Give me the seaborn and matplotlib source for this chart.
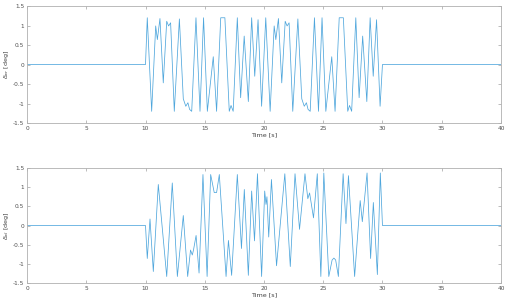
import matplotlib
matplotlib.use("Agg")
import matplotlib.pyplot as plt
import seaborn as sns
import pandas as pd

# ---- data ----
t_top = [0, 10, 10.15, 10.52, 10.86, 11.0, 11.22, 11.5, 11.79, 11.95, 12.12, 12.43, 12.86,
         13.19, 13.4, 13.58, 13.72, 13.9, 14.26, 14.6, 14.9, 15.22, 15.72, 16.0, 16.35, 16.7,
         17.07, 17.22, 17.4, 17.75, 18.03, 18.33, 18.68, 18.96, 19.22, 19.5, 19.8,
         20.15, 20.52, 20.86, 21.0, 21.22, 21.5, 21.79, 21.95, 22.12, 22.43, 22.86,
         23.19, 23.4, 23.58, 23.72, 23.9, 24.26, 24.6, 24.9, 25.22, 25.72, 26.0, 26.35, 26.7,
         27.07, 27.22, 27.4, 27.75, 28.03, 28.33, 28.68, 28.96, 29.22, 29.5, 29.8, 30, 40]
v_top = [0, 0, 1.2, -1.2, 0.99, 0.64, 1.18, -0.47, 1.11, 0.99, 1.07, -1.2, 1.17,
         -0.88, -1.07, -0.98, -1.15, -1.2, 1.2, -1.2, 1.2, -1.2, 0.2, -1.2, 1.2, 1.2,
         -1.2, -1.05, -1.2, 1.2, -0.85, 0.73, -0.95, 1.2, -0.3, 1.15, -1.07,
         1.2, -1.2, 0.99, 0.64, 1.18, -0.47, 1.11, 0.99, 1.07, -1.2, 1.17,
         -0.88, -1.07, -0.98, -1.15, -1.2, 1.2, -1.2, 1.2, -1.2, 0.2, -1.2, 1.2, 1.2,
         -1.2, -1.05, -1.2, 1.2, -0.85, 0.73, -0.95, 1.2, -0.3, 1.15, -1.07, 0, 0]

t_bot = [0, 10, 10.15, 10.38, 10.66, 11.08, 11.79, 12.26, 12.69, 13.19, 13.56, 13.8, 13.95,
         14.05, 14.27, 14.52, 14.85, 15.2, 15.5, 15.8, 16.0, 16.23, 16.8, 17.0, 17.27, 17.75,
         18.1, 18.34, 18.68, 18.96, 19.2, 19.45, 19.8, 20.06, 20.17, 20.25, 20.4, 20.63,
         21.06, 21.76, 22.22, 22.62, 23.0, 23.46, 23.7, 23.85, 24.18, 24.5, 24.8, 25.05,
         25.47, 25.75, 25.9, 26.05, 26.28, 26.68, 26.92, 27.13, 27.65, 28.12, 28.3, 28.7,
         29.0, 29.23, 29.57, 29.82, 30, 40]
v_bot = [0, 0, -0.86, 0.17, -1.2, 1.07, -1.33, 1.11, -1.33, 0.26, -1.33, -0.64, -0.77,
         -0.64, -0.26, -1.24, 1.33, -1.33, 1.33, 0.86, 0.86, 1.33, -1.33, -0.39, -1.3, 1.33,
         -0.6, 0.94, -1.3, 0.9, -0.4, 1.35, -1.33, 0.9, 0.55, 0.75, -0.3, 1.2,
         -1.05, 1.35, -1.07, 1.35, -0.1, 1.35, 0.7, 0.85, 0.2, 1.35, -1.33, 1.37,
         -1.33, -0.9, -0.85, -0.9, -1.33, 1.35, 0.05, 1.3, -1.33, 0.65, 0.1, 1.37,
         -0.86, 0.6, -1.28, 1.37, 0, 0]

x_ticks = [0, 5, 10, 15, 20, 25, 30, 35, 40]
y_ticks = [-1.5, -1, -0.5, 0, 0.5, 1, 1.5]
y_ticklabels = ["-1.5", "-1", "-0.5", "0", "0.5", "1", "1.5"]
ylabels = [r"$\delta_{ar}$ [deg]", r"$\delta_{al}$ [deg]"]
xlabel = "Time [s]"

# ---- plotting ----
sns.set_theme(style="white")
plt.rcParams['font.family'] = ['DejaVu Sans']

fig = plt.figure(figsize=(5.06, 3.03), dpi=100)
ax1 = fig.add_axes([0.0534, 0.594, 0.9366, 0.386])
ax2 = fig.add_axes([0.0534, 0.066, 0.9366, 0.3795])

line_color = "#4ea6dc"
for ax, (t, v), yl in zip([ax1, ax2], [(t_top, v_top), (t_bot, v_bot)], ylabels):
    df = pd.DataFrame({"t": t, "v": v})
    sns.lineplot(data=df, x="t", y="v", ax=ax, color=line_color, linewidth=0.55,
                 estimator=None, sort=False, solid_joinstyle="round")
    ax.set_xlim(0, 40)
    ax.set_ylim(-1.5, 1.5)
    ax.set_xticks(x_ticks)
    ax.set_xticklabels([str(x) for x in x_ticks])
    ax.set_yticks(y_ticks)
    ax.set_yticklabels(y_ticklabels)
    ax.tick_params(direction="in", length=2, width=0.4, labelsize=4.2,
                   colors="#8a8a8a", labelcolor="#505050", pad=2,
                   top=True, right=True, bottom=True, left=True)
    for s in ax.spines.values():
        s.set_color("#b0b0b0")
        s.set_linewidth(0.6)
    ax.set_xlabel(xlabel, fontsize=4.6, color="#404040", labelpad=1)
    ax.set_ylabel(yl, fontsize=4.6, color="#404040", labelpad=1)

fig.savefig("out.png", dpi=100)
